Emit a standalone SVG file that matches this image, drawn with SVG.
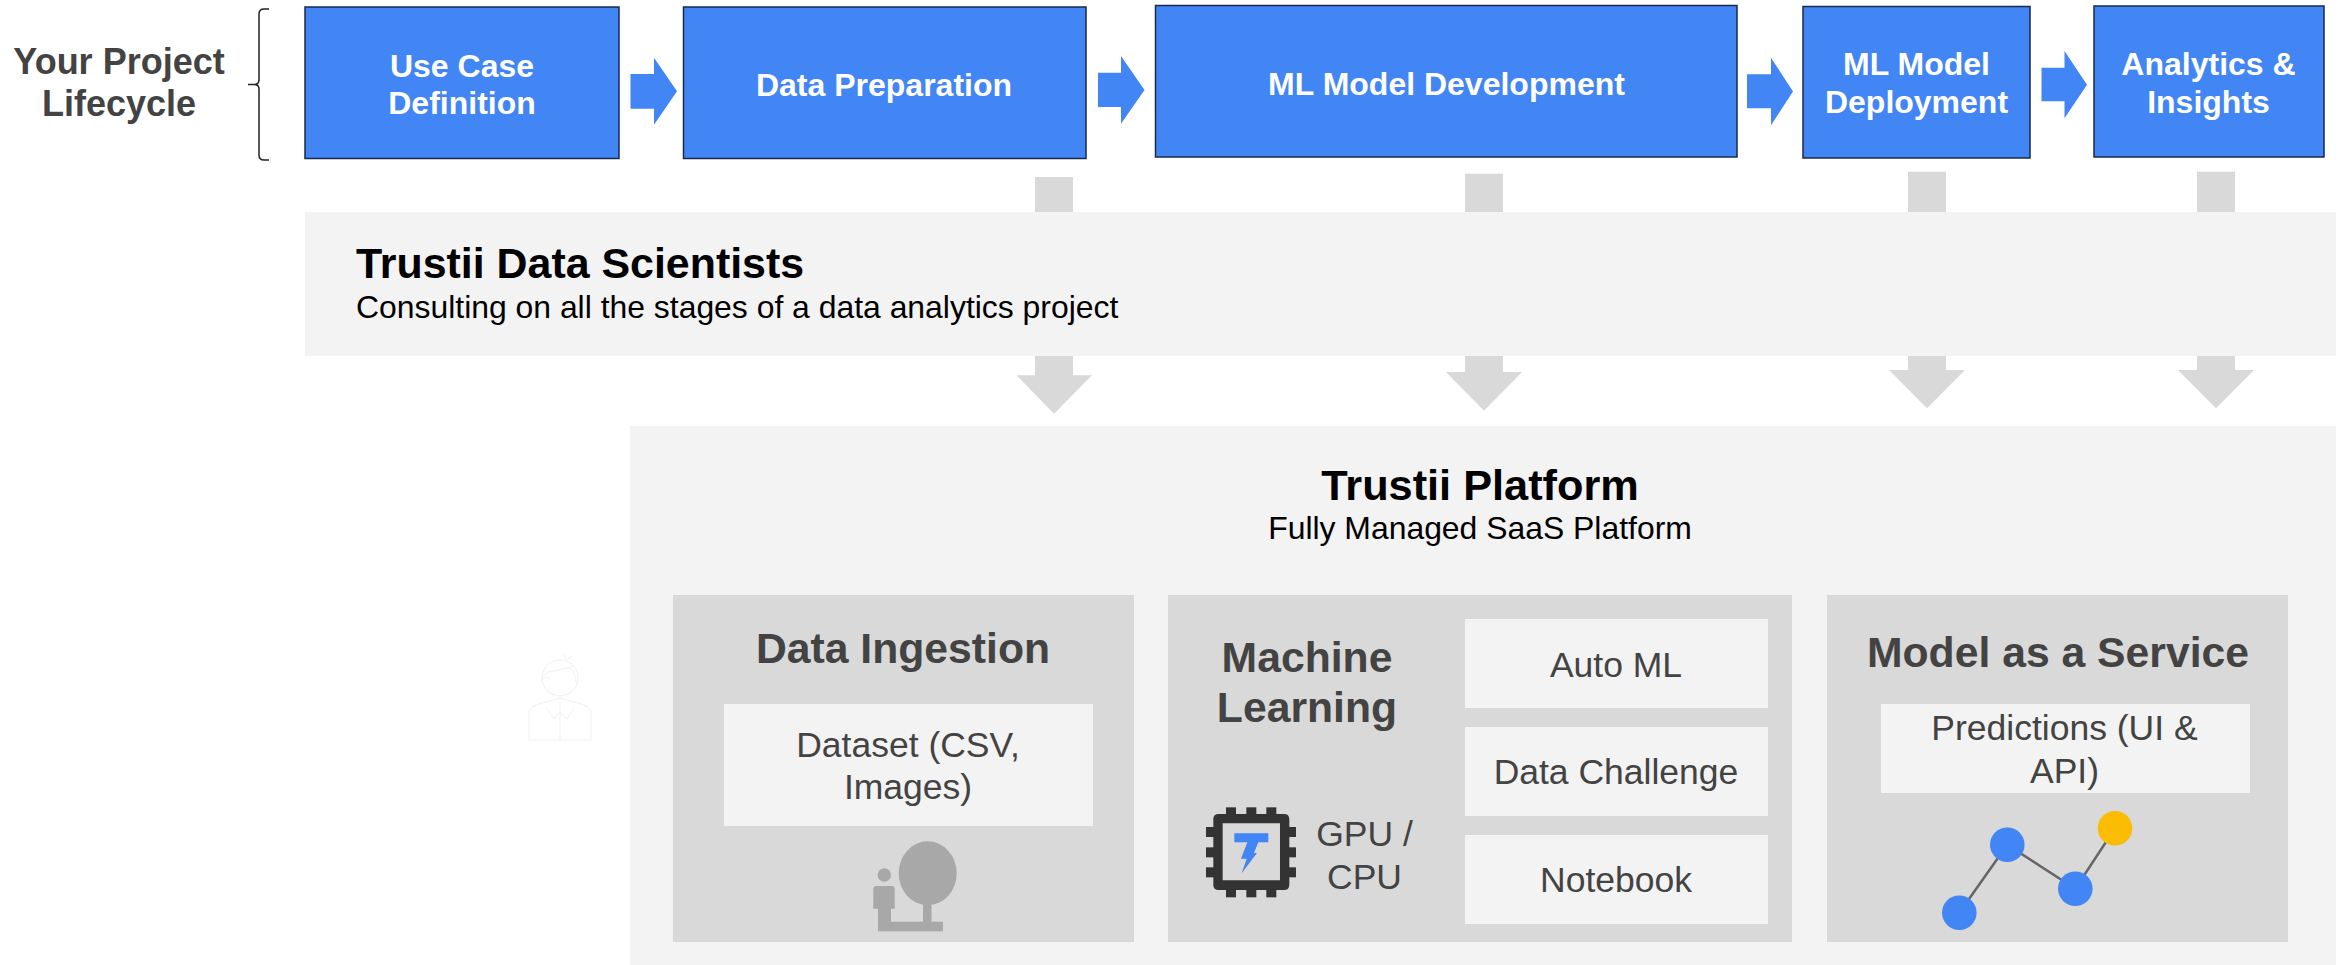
<svg xmlns="http://www.w3.org/2000/svg" width="2348" height="965" viewBox="0 0 2348 965">
<style>
text{font-family:"Liberation Sans",Arial,sans-serif;text-anchor:middle}
.step{fill:#4285f4;stroke:#1a2a4a;stroke-width:1.5}
.stept{fill:#fff;font-weight:700;font-size:32px}
.flow{fill:#4285f4}
.down{fill:#d9d9d9}
.panel{fill:#f3f3f3}
.card{fill:#d9d9d9}
.h1{fill:#000;font-weight:700;font-size:42.9px}
.sub{fill:#000;font-size:31.9px}
.h2{fill:#434343;font-weight:700;font-size:42.7px}
.b{fill:#434343;font-size:35.5px}
.ic{fill:#a8a8a8}
.chip{fill:#333}
.dot{fill:#4285f4}
.line{stroke:#666;stroke-width:2.5;fill:none}
.faint{fill:none;stroke:#f1f1f1;stroke-width:1}
</style>
<g id="panels">
<rect id="scientists-panel" class="panel" x="305" y="212" width="2031" height="144"/>
<rect id="platform-panel" class="panel" x="630" y="426" width="1706" height="539"/>
</g>
<g id="connectors">
<path class="flow" d="M630.5 74H654V57.7L677 91.2 654 124.7V108.7H630.5Z"/>
<path class="flow" d="M1098 72.7H1121V56L1144.5 90 1121 123.7V107H1098Z"/>
<path class="flow" d="M1747 74.3H1771V57.7L1793 91.5 1771 125.3V108.3H1747Z"/>
<path class="flow" d="M2041.5 67.7H2064.5V51L2087 84.7 2064.5 118.3V101.3H2041.5Z"/>
<rect class="down" x="1035" y="177" width="38" height="35"/>
<path class="down" d="M1035 356H1073V375.3H1092L1054 413.7 1016.5 375.3H1035Z"/>
<rect class="down" x="1465" y="173.7" width="38" height="38.3"/>
<path class="down" d="M1465 356H1503V372H1522L1484 410.7 1446 372H1465Z"/>
<rect class="down" x="1908" y="171.7" width="38" height="40.3"/>
<path class="down" d="M1908 356H1946V370H1965L1927 408.3 1889 370H1908Z"/>
<rect class="down" x="2197" y="171.7" width="38" height="40.3"/>
<path class="down" d="M2197 356H2235V370H2254L2216 408.3 2178 370H2197Z"/>
</g>
<g id="lifecycle-label">
<text x="119" y="73.5" font-size="36" font-weight="700" fill="#434343">Your Project</text>
<text x="119" y="116" font-size="36" font-weight="700" fill="#434343">Lifecycle</text>
<path d="M269 9H264Q259 9 259 14V80Q259 84.500 254 84.500H248M254 84.500Q259 84.500 259 89V155Q259 160 264 160H269" fill="none" stroke="#222" stroke-width="1.500"/>
</g>
<g id="use-case"><rect class="step" x="305" y="7" width="314" height="151.500"/>
<text class="stept" x="462" y="76.700">Use Case</text><text class="stept" x="462" y="114">Definition</text></g>
<g id="data-preparation"><rect class="step" x="683.500" y="7" width="402.500" height="151.500"/>
<text class="stept" x="884" y="95.700">Data Preparation</text></g>
<g id="ml-development"><rect class="step" x="1155.500" y="5.500" width="581.500" height="151.500"/>
<text class="stept" x="1446.500" y="95">ML Model Development</text></g>
<g id="ml-deployment"><rect class="step" x="1803" y="6.500" width="227" height="151.500"/>
<text class="stept" x="1916.500" y="74.700">ML Model</text><text class="stept" x="1916.500" y="112.700">Deployment</text></g>
<g id="analytics"><rect class="step" x="2094" y="6" width="230" height="151"/>
<text class="stept" x="2208.500" y="74.700">Analytics &amp;</text><text class="stept" x="2208.500" y="112.700">Insights</text></g>
<g id="scientists">
<text class="h1" x="356" y="278.300" style="text-anchor:start">Trustii Data Scientists</text>
<text class="sub" x="356" y="318" style="text-anchor:start">Consulting on all the stages of a data analytics project</text>
</g>
<g id="platform">
<text class="h1" x="1480" y="500" style="font-size:43.3px">Trustii Platform</text>
<text class="sub" x="1480" y="539">Fully Managed SaaS Platform</text>
</g>
<g id="person" class="faint">
<circle cx="560" cy="678" r="18"/>
<path d="M541 680Q545 670 556 671Q566 668 574 666M563 654L567 660 572 656M541 680Q545 676 550 678M569 667Q576 673 576 682"/>
<path d="M529 740V712Q530 706 542 703L560 698 578 703Q590 706 591 712V740ZM560 702V740M547 708L554 719 560 712 567 719 574 708"/>
</g>
<g id="data-ingestion">
<rect class="card" x="673" y="595" width="461" height="347"/>
<text class="h2" x="903" y="662.700">Data Ingestion</text>
<rect class="panel" x="724" y="704" width="369" height="122"/>
<text class="b" x="908" y="756.700">Dataset (CSV,</text><text class="b" x="908" y="799">Images)</text>
<g class="ic">
<ellipse cx="927.700" cy="873.300" rx="29" ry="32"/>
<rect x="923" y="900" width="8.500" height="25"/>
<rect x="878" y="921.700" width="65" height="9.600"/>
<circle cx="884.300" cy="875" r="6.700"/>
<path d="M873.300 889Q873.300 886 876.300 886H891.700Q894.700 886 894.700 889V908.700H891V925H878V908.700H873.300Z"/>
</g>
</g>
<g id="machine-learning">
<rect class="card" x="1168" y="595" width="624" height="347"/>
<text class="h2" x="1307" y="671.700">Machine</text><text class="h2" x="1307" y="721.700">Learning</text>
<rect class="panel" x="1465" y="619" width="303" height="89"/><text class="b" x="1616" y="676.700">Auto ML</text>
<rect class="panel" x="1465" y="727" width="303" height="89"/><text class="b" x="1616" y="784">Data Challenge</text>
<rect class="panel" x="1465" y="835" width="303" height="89"/><text class="b" x="1616" y="892">Notebook</text>
<text class="b" x="1364.500" y="846">GPU /</text><text class="b" x="1364.500" y="889">CPU</text>
<g transform="translate(1190 790) scale(.3333)">
<path class="chip" fill-rule="evenodd" d="M86 72H282Q298 72 298 88V284Q298 300 282 300H86Q70 300 70 284V88Q70 72 86 72ZM98 100V271H270V100Z"/>
<g class="chip">
<rect x="108" y="52" width="30" height="25"/><rect x="169" y="52" width="30" height="25"/><rect x="229" y="52" width="30" height="25"/>
<rect x="108" y="295" width="30" height="27"/><rect x="169" y="295" width="30" height="27"/><rect x="229" y="295" width="30" height="27"/>
<rect x="48" y="111" width="27" height="30"/><rect x="48" y="172" width="27" height="30"/><rect x="48" y="232" width="27" height="30"/>
<rect x="293" y="111" width="25" height="30"/><rect x="293" y="172" width="25" height="30"/><rect x="293" y="232" width="25" height="30"/>
</g>
<path fill="#4285f4" d="M133 130H235V157H205L192 189H201L155 250 170 206H153L172 157H133Z"/>
</g>
</g>
<g id="model-service">
<rect class="card" x="1827" y="595" width="461" height="347"/>
<text class="h2" x="2058" y="667">Model as a Service</text>
<rect class="panel" x="1881" y="704" width="369" height="89"/>
<text class="b" x="2064.500" y="740">Predictions (UI &amp;</text><text class="b" x="2064.500" y="782.700">API)</text>
<path class="line" d="M1959.300 912.700L2007.300 844.700 2075.300 888.700 2115 828.300"/>
<circle class="dot" cx="1959.300" cy="912.700" r="17.300"/>
<circle class="dot" cx="2007.300" cy="844.700" r="17.300"/>
<circle class="dot" cx="2075.300" cy="888.700" r="17.300"/>
<circle cx="2115" cy="828.300" r="17.300" fill="#fbbc04"/>
</g>
</svg>
